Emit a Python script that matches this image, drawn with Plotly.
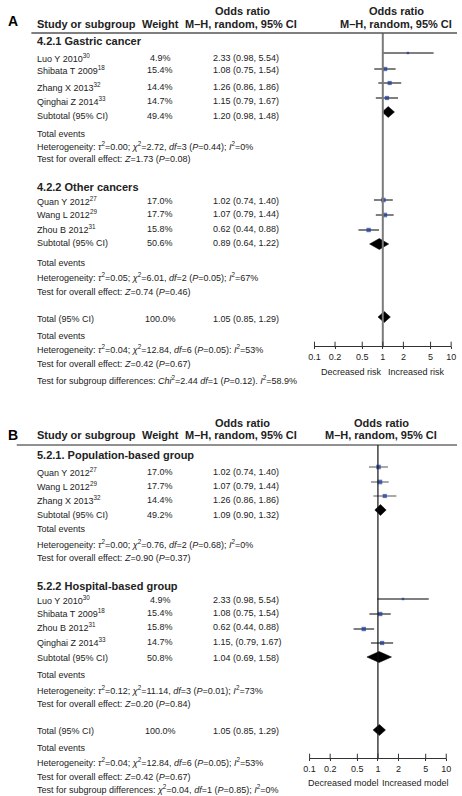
import plotly.graph_objects as go
import numpy as np

W, H = 462, 796
FONT = "Liberation Sans, Arial, sans-serif"
TXT = "#222222"
BLUE = "#17389e"

# ---------------- DATA ----------------
# Panel A: subgroup 4.2.1 Gastric cancer
a1_names = ["Luo Y 2010", "Shibata T 2009", "Zhang X 2013", "Qinghai Z 2014"]
a1_refs = ["30", "18", "32", "33"]
a1_weight = [4.9, 15.4, 14.4, 14.7]
a1_or = [2.33, 1.08, 1.26, 1.15]
a1_lo = [0.98, 0.75, 0.86, 0.79]
a1_hi = [5.54, 1.54, 1.86, 1.67]
a1_sub = [49.4, 1.20, 0.98, 1.48]
# Panel A: subgroup 4.2.2 Other cancers
a2_names = ["Quan Y 2012", "Wang L 2012", "Zhou B 2012"]
a2_refs = ["27", "29", "31"]
a2_weight = [17.0, 17.7, 15.8]
a2_or = [1.02, 1.07, 0.62]
a2_lo = [0.74, 0.79, 0.44]
a2_hi = [1.40, 1.44, 0.88]
a2_sub = [50.6, 0.89, 0.64, 1.22]
total = [100.0, 1.05, 0.85, 1.29]

# Panel B: 5.2.1 Population-based group
b1_names = ["Quan Y 2012", "Wang L 2012", "Zhang X 2013"]
b1_refs = ["27", "29", "32"]
b1_weight = [17.0, 17.7, 14.4]
b1_or = [1.02, 1.07, 1.26]
b1_lo = [0.74, 0.79, 0.86]
b1_hi = [1.40, 1.44, 1.86]
b1_sub = [49.2, 1.09, 0.90, 1.32]
# Panel B: 5.2.2 Hospital-based group
b2_names = ["Luo Y 2010", "Shibata T 2009", "Zhou B 2012", "Qinghai Z 2014"]
b2_refs = ["30", "18", "31", "33"]
b2_weight = [4.9, 15.4, 15.8, 14.7]
b2_or = [2.33, 1.08, 0.62, 1.15]
b2_lo = [0.98, 0.75, 0.44, 0.79]
b2_hi = [5.54, 1.54, 0.88, 1.67]
b2_sep = [" ", " ", " ", ", "]
b2_sub = [50.8, 1.04, 0.69, 1.58]

tick_vals = [0.1, 0.2, 0.5, 1, 2, 5, 10]
tick_text = ["0.1", "0.2", "0.5", "1", "2", "5", "10"]

a1_het = "Heterogeneity: <i>τ</i><sup>2</sup>=0.00; <i>χ</i><sup>2</sup>=2.72, <i>df</i>=3 (<i>P</i>=0.44); <i>I</i><sup>2</sup>=0%"
a1_test = "Test for overall effect: <i>Z</i>=1.73 (<i>P</i>=0.08)"
a2_het = "Heterogeneity: <i>τ</i><sup>2</sup>=0.05; <i>χ</i><sup>2</sup>=6.01, <i>df</i>=2 (<i>P</i>=0.05); <i>I</i><sup>2</sup>=67%"
a2_test = "Test for overall effect: <i>Z</i>=0.74 (<i>P</i>=0.46)"
a_tot_het = "Heterogeneity: <i>τ</i><sup>2</sup>=0.04; <i>χ</i><sup>2</sup>=12.84, <i>df</i>=6 (<i>P</i>=0.05): <i>I</i><sup>2</sup>=53%"
a_tot_test = "Test for overall effect: <i>Z</i>=0.42 (<i>P</i>=0.67)"
a_subdiff = "Test for subgroup differences: <i>Chi</i><sup>2</sup>=2.44 <i>df</i>=1 (<i>P</i>=0.12). <i>I</i><sup>2</sup>=58.9%"

b1_het = "Heterogeneity: <i>τ</i><sup>2</sup>=0.00; <i>χ</i><sup>2</sup>=0.76, <i>df</i>=2 (<i>P</i>=0.68); <i>I</i><sup>2</sup>=0%"
b1_test = "Test for overall effect: <i>Z</i>=0.90 (<i>P</i>=0.37)"
b2_het = "Heterogeneity: <i>τ</i><sup>2</sup>=0.12; <i>χ</i><sup>2</sup>=11.14, <i>df</i>=3 (<i>P</i>=0.01); <i>I</i><sup>2</sup>=73%"
b2_test = "Test for overall effect: <i>Z</i>=0.20 (<i>P</i>=0.84)"
b_tot_het = "Heterogeneity: <i>τ</i><sup>2</sup>=0.04; <i>χ</i><sup>2</sup>=12.84, <i>df</i>=6 (<i>P</i>=0.05); <i>I</i><sup>2</sup>=53%"
b_tot_test = "Test for overall effect: <i>Z</i>=0.42 (<i>P</i>=0.67)"
b_subdiff = "Test for subgroup differences: <i>χ</i><sup>2</sup>=0.04, <i>df</i>=1 (<i>P</i>=0.85); <i>I</i><sup>2</sup>=0%"

# ---------------- LAYOUT POSITIONS (pixel rows) ----------------
X_NAME, X_WEIGHT, X_OR = 30, 158, 210
FS, FS_HEAD, FS_SUB = 9, 11, 11
DIA_H = 5.5

# forest panels: (x-axis pixel span, top px, axis-line px)
PANEL_A = dict(x0=316, x1=456, top=33, bottom=346)
PANEL_B = dict(x0=311, x1=451, top=445, bottom=758)

fig = go.Figure()
ann = []


def text(x, y, s, size=FS, bold=False, anchor="left", color=TXT):
    if bold:
        s = "<b>" + s + "</b>"
    ann.append(dict(x=x, y=y, xref="x", yref="y", text=s, showarrow=False,
                    xanchor=anchor, yanchor="middle",
                    font=dict(family=FONT, size=size, color=color)))


def or_label(o, lo, hi, sep=" "):
    return f"{o:.2f}{sep}({lo:.2f}, {hi:.2f})"


def study_rows(ax, names, refs, wts, ors, los, his, ty, my, seps=None, ci_color="black"):
    xa, ya = ax
    for i in range(len(names)):
        sep = seps[i] if seps else " "
        text(X_NAME, ty[i], f"{names[i]}<sup>{refs[i]}</sup>")
        text(X_WEIGHT, ty[i], f"{wts[i]:.1f}%", anchor="center")
        text(X_OR, ty[i], or_label(ors[i], los[i], his[i], sep))
        fig.add_trace(go.Scatter(x=[los[i], his[i]], y=[my[i], my[i]], xaxis=xa, yaxis=ya,
                                 mode="lines", line=dict(color=ci_color, width=1.2),
                                 cliponaxis=False, hoverinfo="skip", showlegend=False))
    fig.add_trace(go.Scatter(x=ors, y=my, xaxis=xa, yaxis=ya, mode="markers",
                             marker=dict(symbol="square", color=BLUE,
                                         size=[1.1 * np.sqrt(w) for w in wts], line=dict(width=0)),
                             cliponaxis=False, hoverinfo="skip", showlegend=False))


def diamond(ax, label, vals, ty, my):
    xa, ya = ax
    w, o, lo, hi = vals
    text(X_NAME, ty, label)
    text(X_WEIGHT, ty, f"{w:.1f}%", anchor="center")
    text(X_OR, ty, or_label(o, lo, hi))
    fig.add_trace(go.Scatter(x=[lo, o, hi, o, lo], y=[my, my - DIA_H, my, my + DIA_H, my],
                             xaxis=xa, yaxis=ya, mode="lines", fill="toself",
                             fillcolor="black", line=dict(color="black", width=0.5),
                             cliponaxis=False, hoverinfo="skip", showlegend=False))


def headers(y1, y2, x_right, rule_y, rule_x0, rule_color, rule_w):
    text(242, y1, "Odds ratio", size=FS_HEAD, bold=True, anchor="center")
    text(X_NAME, y2, "Study or subgroup", size=FS_HEAD, bold=True)
    text(158.5, y2, "Weight", size=FS_HEAD, bold=True, anchor="center")
    text(241, y2, "M–H, random, 95% CI", size=FS_HEAD, bold=True, anchor="center")
    text(x_right, y1, "Odds ratio", size=FS_HEAD, bold=True, anchor="center")
    text(x_right - 1, y2, "M–H, random, 95% CI", size=FS_HEAD, bold=True, anchor="center")
    fig.add_shape(type="line", xref="x", yref="y", x0=rule_x0, x1=W, y0=rule_y, y1=rule_y,
                  line=dict(color=rule_color, width=rule_w))


AX_A = ("x2", "y2")
AX_B = ("x3", "y3")

# ---- Panel A ----
ann.append(dict(x=0, y=21, xref="x", yref="y", text="<b>A</b>", showarrow=False,
                xanchor="left", yanchor="middle", font=dict(family=FONT, size=14, color="black")))
headers(11, 24, 400, 33, 26, "#555555", 1.5)
text(X_NAME, 41, "4.2.1 Gastric cancer", size=FS_SUB, bold=True)
study_rows(AX_A, a1_names, a1_refs, a1_weight, a1_or, a1_lo, a1_hi,
           [58, 70, 87, 101], [53, 69, 83, 98])
diamond(AX_A, "Subtotal (95% CI)", a1_sub, 116, 112)
text(X_NAME, 134, "Total events")
text(X_NAME, 146, a1_het)
text(X_NAME, 159, a1_test)
text(X_NAME, 187, "4.2.2 Other cancers", size=FS_SUB, bold=True)
study_rows(AX_A, a2_names, a2_refs, a2_weight, a2_or, a2_lo, a2_hi,
           [201, 214, 229], [200, 215, 230])
diamond(AX_A, "Subtotal (95% CI)", a2_sub, 243, 244)
text(X_NAME, 263, "Total events")
text(X_NAME, 277, a2_het)
text(X_NAME, 292, a2_test)
diamond(AX_A, "Total (95% CI)", total, 319, 317)
text(X_NAME, 336, "Total events")
text(X_NAME, 349, a_tot_het)
text(X_NAME, 364, a_tot_test)
text(X_NAME, 380, a_subdiff)
text(354, 372, "Decreased risk", anchor="center")
text(421, 372, "Increased risk", anchor="center")

# ---- Panel B ----
ann.append(dict(x=0, y=435, xref="x", yref="y", text="<b>B</b>", showarrow=False,
                xanchor="left", yanchor="middle", font=dict(family=FONT, size=14, color="black")))
headers(423, 435, 385, 445, 11, "#222222", 1.2)
text(X_NAME, 455, "5.2.1. Population-based group", size=FS_SUB, bold=True)
study_rows(AX_B, b1_names, b1_refs, b1_weight, b1_or, b1_lo, b1_hi,
           [472, 486, 500], [467, 482, 496], ci_color="#555555")
diamond(AX_B, "Subtotal (95% CI)", b1_sub, 515, 510)
text(X_NAME, 529, "Total events")
text(X_NAME, 544, b1_het)
text(X_NAME, 558, b1_test)
text(X_NAME, 586, "5.2.2 Hospital-based group", size=FS_SUB, bold=True)
study_rows(AX_B, b2_names, b2_refs, b2_weight, b2_or, b2_lo, b2_hi,
           [600, 613, 627, 642], [599, 614, 629, 643], seps=b2_sep)
diamond(AX_B, "Subtotal (95% CI)", b2_sub, 658, 657)
text(X_NAME, 675, "Total events")
text(X_NAME, 690, b2_het)
text(X_NAME, 704, b2_test)
diamond(AX_B, "Total (95% CI)", total, 731, 730)
text(X_NAME, 748, "Total events")
text(X_NAME, 762, b_tot_het)
text(X_NAME, 777, b_tot_test)
text(X_NAME, 789, b_subdiff)
text(346, 783, "Decreased model", anchor="center")
text(419, 783, "Increased model", anchor="center")

# null lines (OR = 1) spanning each panel
for (xa, ya), P, col, wid in [(AX_A, PANEL_A, "#7a7a7a", 2), (AX_B, PANEL_B, "#111111", 1.2)]:
    fig.add_trace(go.Scatter(x=[1, 1], y=[P["top"], P["bottom"]], xaxis=xa, yaxis=ya, mode="lines",
                             line=dict(color=col, width=wid), cliponaxis=False,
                             hoverinfo="skip", showlegend=False))
    # upper half of the tick marks (crossing the axis line)
    fig.add_trace(go.Scatter(x=tick_vals, y=[P["bottom"] - 1.5] * len(tick_vals), xaxis=xa, yaxis=ya,
                             mode="markers", marker=dict(symbol="line-ns", size=4,
                                                         line=dict(color="#333333", width=1)),
                             cliponaxis=False, hoverinfo="skip", showlegend=False))

axis_common = dict(type="log", range=[-1, 1], showgrid=False, zeroline=False,
                   showline=True, linecolor="#333333", linewidth=1, ticks="outside", ticklen=2,
                   tickcolor="#333333", tickwidth=1, tickvals=tick_vals, ticktext=tick_text,
                   tickfont=dict(family=FONT, size=FS, color=TXT), fixedrange=True)
yaxis_common = dict(visible=False, showgrid=False, zeroline=False, fixedrange=True)


def ydom(P):
    return [1 - P["bottom"] / H, 1 - P["top"] / H]


fig.update_layout(
    width=W, height=H, margin=dict(l=0, r=0, t=0, b=0),
    paper_bgcolor="white", plot_bgcolor="rgba(0,0,0,0)",
    xaxis=dict(domain=[0, 1], range=[0, W], visible=False, fixedrange=True),
    yaxis=dict(domain=[0, 1], range=[H, 0], visible=False, fixedrange=True),
    xaxis2=dict(domain=[PANEL_A["x0"] / W, PANEL_A["x1"] / W], anchor="y2", **axis_common),
    yaxis2=dict(domain=ydom(PANEL_A), range=[PANEL_A["bottom"], PANEL_A["top"]],
                anchor="x2", **yaxis_common),
    xaxis3=dict(domain=[PANEL_B["x0"] / W, PANEL_B["x1"] / W], anchor="y3", **axis_common),
    yaxis3=dict(domain=ydom(PANEL_B), range=[PANEL_B["bottom"], PANEL_B["top"]],
                anchor="x3", **yaxis_common),
    annotations=ann,
    showlegend=False,
)

fig.write_html("out.html")
